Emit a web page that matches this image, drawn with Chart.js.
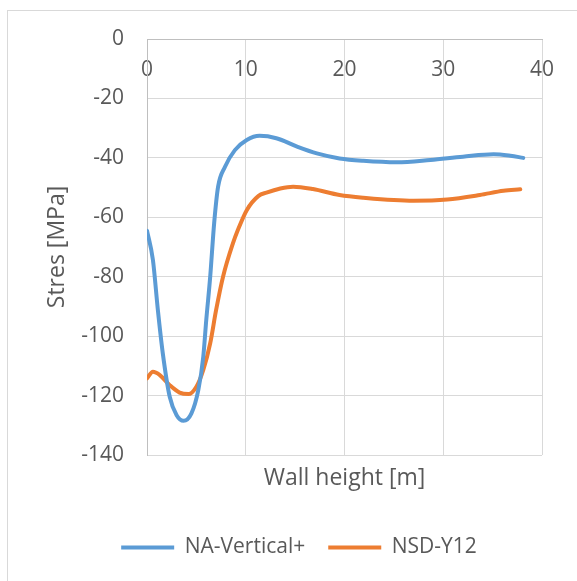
<!DOCTYPE html>
<html>
<head>
<meta charset="utf-8">
<script src="https://cdn.jsdelivr.net/npm/chart.js@4.4.1/dist/chart.umd.min.js"></script>
<style>
  html, body { margin: 0; padding: 0; background: #fff; }
  #wrap { position: relative; width: 577px; height: 581px; overflow: hidden; }
  #frame { position: absolute; left: 7px; top: 10px; width: 640px; height: 640px; border: 1px solid #d9d9d9; }
  #chart { position: absolute; left: 0; top: 0; }
</style>
</head>
<body>
<div id="wrap">
  <div id="frame"></div>
  <canvas id="chart" width="577" height="581"></canvas>
</div>
<script>
// wall height [m] and stress [MPa] for each series
const naHeight = [0, 0.6, 1.1, 1.6, 2.3, 3.0, 3.7, 4.5, 5.2, 5.7, 6.0, 6.4, 6.8, 7.2, 7.9, 8.9, 10.1, 11.4, 13.1, 15.2, 17.2, 19.5, 21.9, 25.3, 28.7, 32.0, 35.1, 36.8, 38.1];
const naStress = [-64.5, -74.4, -91.2, -105.8, -120.4, -126.6, -128.5, -126, -118.1, -106.9, -94.6, -80, -62, -49.7, -43, -37.4, -34, -32.6, -33.4, -36.2, -38.5, -40.2, -41, -41.5, -40.7, -39.6, -38.8, -39.3, -40];

const nsdHeight = [0, 0.6, 1.3, 2.3, 3.3, 4.2, 5.0, 5.7, 6.4, 7.0, 7.7, 8.7, 9.2, 10.1, 11.3, 12.1, 13.5, 14.8, 16.8, 19.5, 21.9, 27.0, 30.4, 33.7, 36.1, 37.8];
const nsdStress = [-114.2, -112, -113.1, -116.5, -119, -119.5, -117, -111.4, -102.4, -91.2, -80, -68.8, -64.3, -57.6, -52.8, -51.7, -50.3, -49.7, -50.5, -52.5, -53.4, -54.4, -54, -52.5, -51.1, -50.6];

const seriesNames = ["NA-Vertical+", "NSD-Y12"];
const xTicks = { min: 0, max: 40, step: 10 };
const yTicks = { min: -140, max: 0, step: 20 };

const textColor = "#595959";
const gridColor = "#d9d9d9";
const axisColor = "#bfbfbf";
const fontFamily = "'Open Sans', 'Noto Sans', sans-serif";

function toPoints(xs, ys) {
  return xs.map((x, i) => ({ x: x, y: ys[i] }));
}

function lineSet(label, xs, ys, color) {
  return {
    label: label,
    data: toPoints(xs, ys),
    borderColor: color,
    backgroundColor: color,
    borderWidth: 4,
    borderCapStyle: "round",
    pointRadius: 0,
    pointStyle: "line",
    cubicInterpolationMode: "monotone",
    fill: false,
    xAxisID: "x",
    yAxisID: "y"
  };
}

new Chart(document.getElementById("chart").getContext("2d"), {
  type: "line",
  data: {
    datasets: [
      lineSet(seriesNames[0], naHeight, naStress, "#5b9bd5"),
      lineSet(seriesNames[1], nsdHeight, nsdStress, "#ed7d31")
    ]
  },
  options: {
    responsive: false,
    animation: false,
    layout: { padding: { left: 21, top: 39, right: 0, bottom: 13 } },
    plugins: {
      tooltip: { enabled: false },
      legend: {
        position: "bottom",
        labels: {
          usePointStyle: true,
          pointStyleWidth: 53,
          padding: 23,
          color: textColor,
          font: { family: fontFamily, size: 21 }
        }
      }
    },
    scales: {
      // horizontal axis sits on y = 0, i.e. the top edge of the plot
      x: {
        type: "linear",
        axis: "x",
        position: { y: 0 },
        min: xTicks.min,
        max: xTicks.max,
        ticks: { stepSize: xTicks.step, padding: 18, color: textColor, font: { family: fontFamily, size: 21 } },
        grid: { color: gridColor, lineWidth: 1, drawTicks: false },
        border: { color: axisColor, width: 1 }
      },
      // carries only the axis title under the plot
      xTitle: {
        type: "linear",
        axis: "x",
        position: "bottom",
        grid: { display: false },
        ticks: { display: false },
        border: { display: false },
        title: {
          display: true,
          text: "Wall height [m]",
          color: textColor,
          font: { family: fontFamily, size: 23 },
          padding: { top: 0, bottom: 22 }
        },
        afterFit: (s) => { s.height = 59; }
      },
      y: {
        type: "linear",
        position: "left",
        min: yTicks.min,
        max: yTicks.max,
        ticks: { stepSize: yTicks.step, padding: 23, color: textColor, font: { family: fontFamily, size: 21 } },
        grid: { color: gridColor, lineWidth: 1, drawTicks: false },
        border: { color: axisColor, width: 1 },
        title: {
          display: true,
          text: "Stres [MPa]",
          color: textColor,
          font: { family: fontFamily, size: 23 },
          padding: { top: 23, bottom: 0 }
        },
        afterFit: (s) => { s.width = 126; }
      },
      // empty right margin
      yRight: {
        type: "linear",
        axis: "y",
        position: "right",
        grid: { display: false },
        ticks: { display: false },
        border: { display: false },
        afterFit: (s) => { s.width = 35; }
      }
    }
  }
});
</script>
</body>
</html>
